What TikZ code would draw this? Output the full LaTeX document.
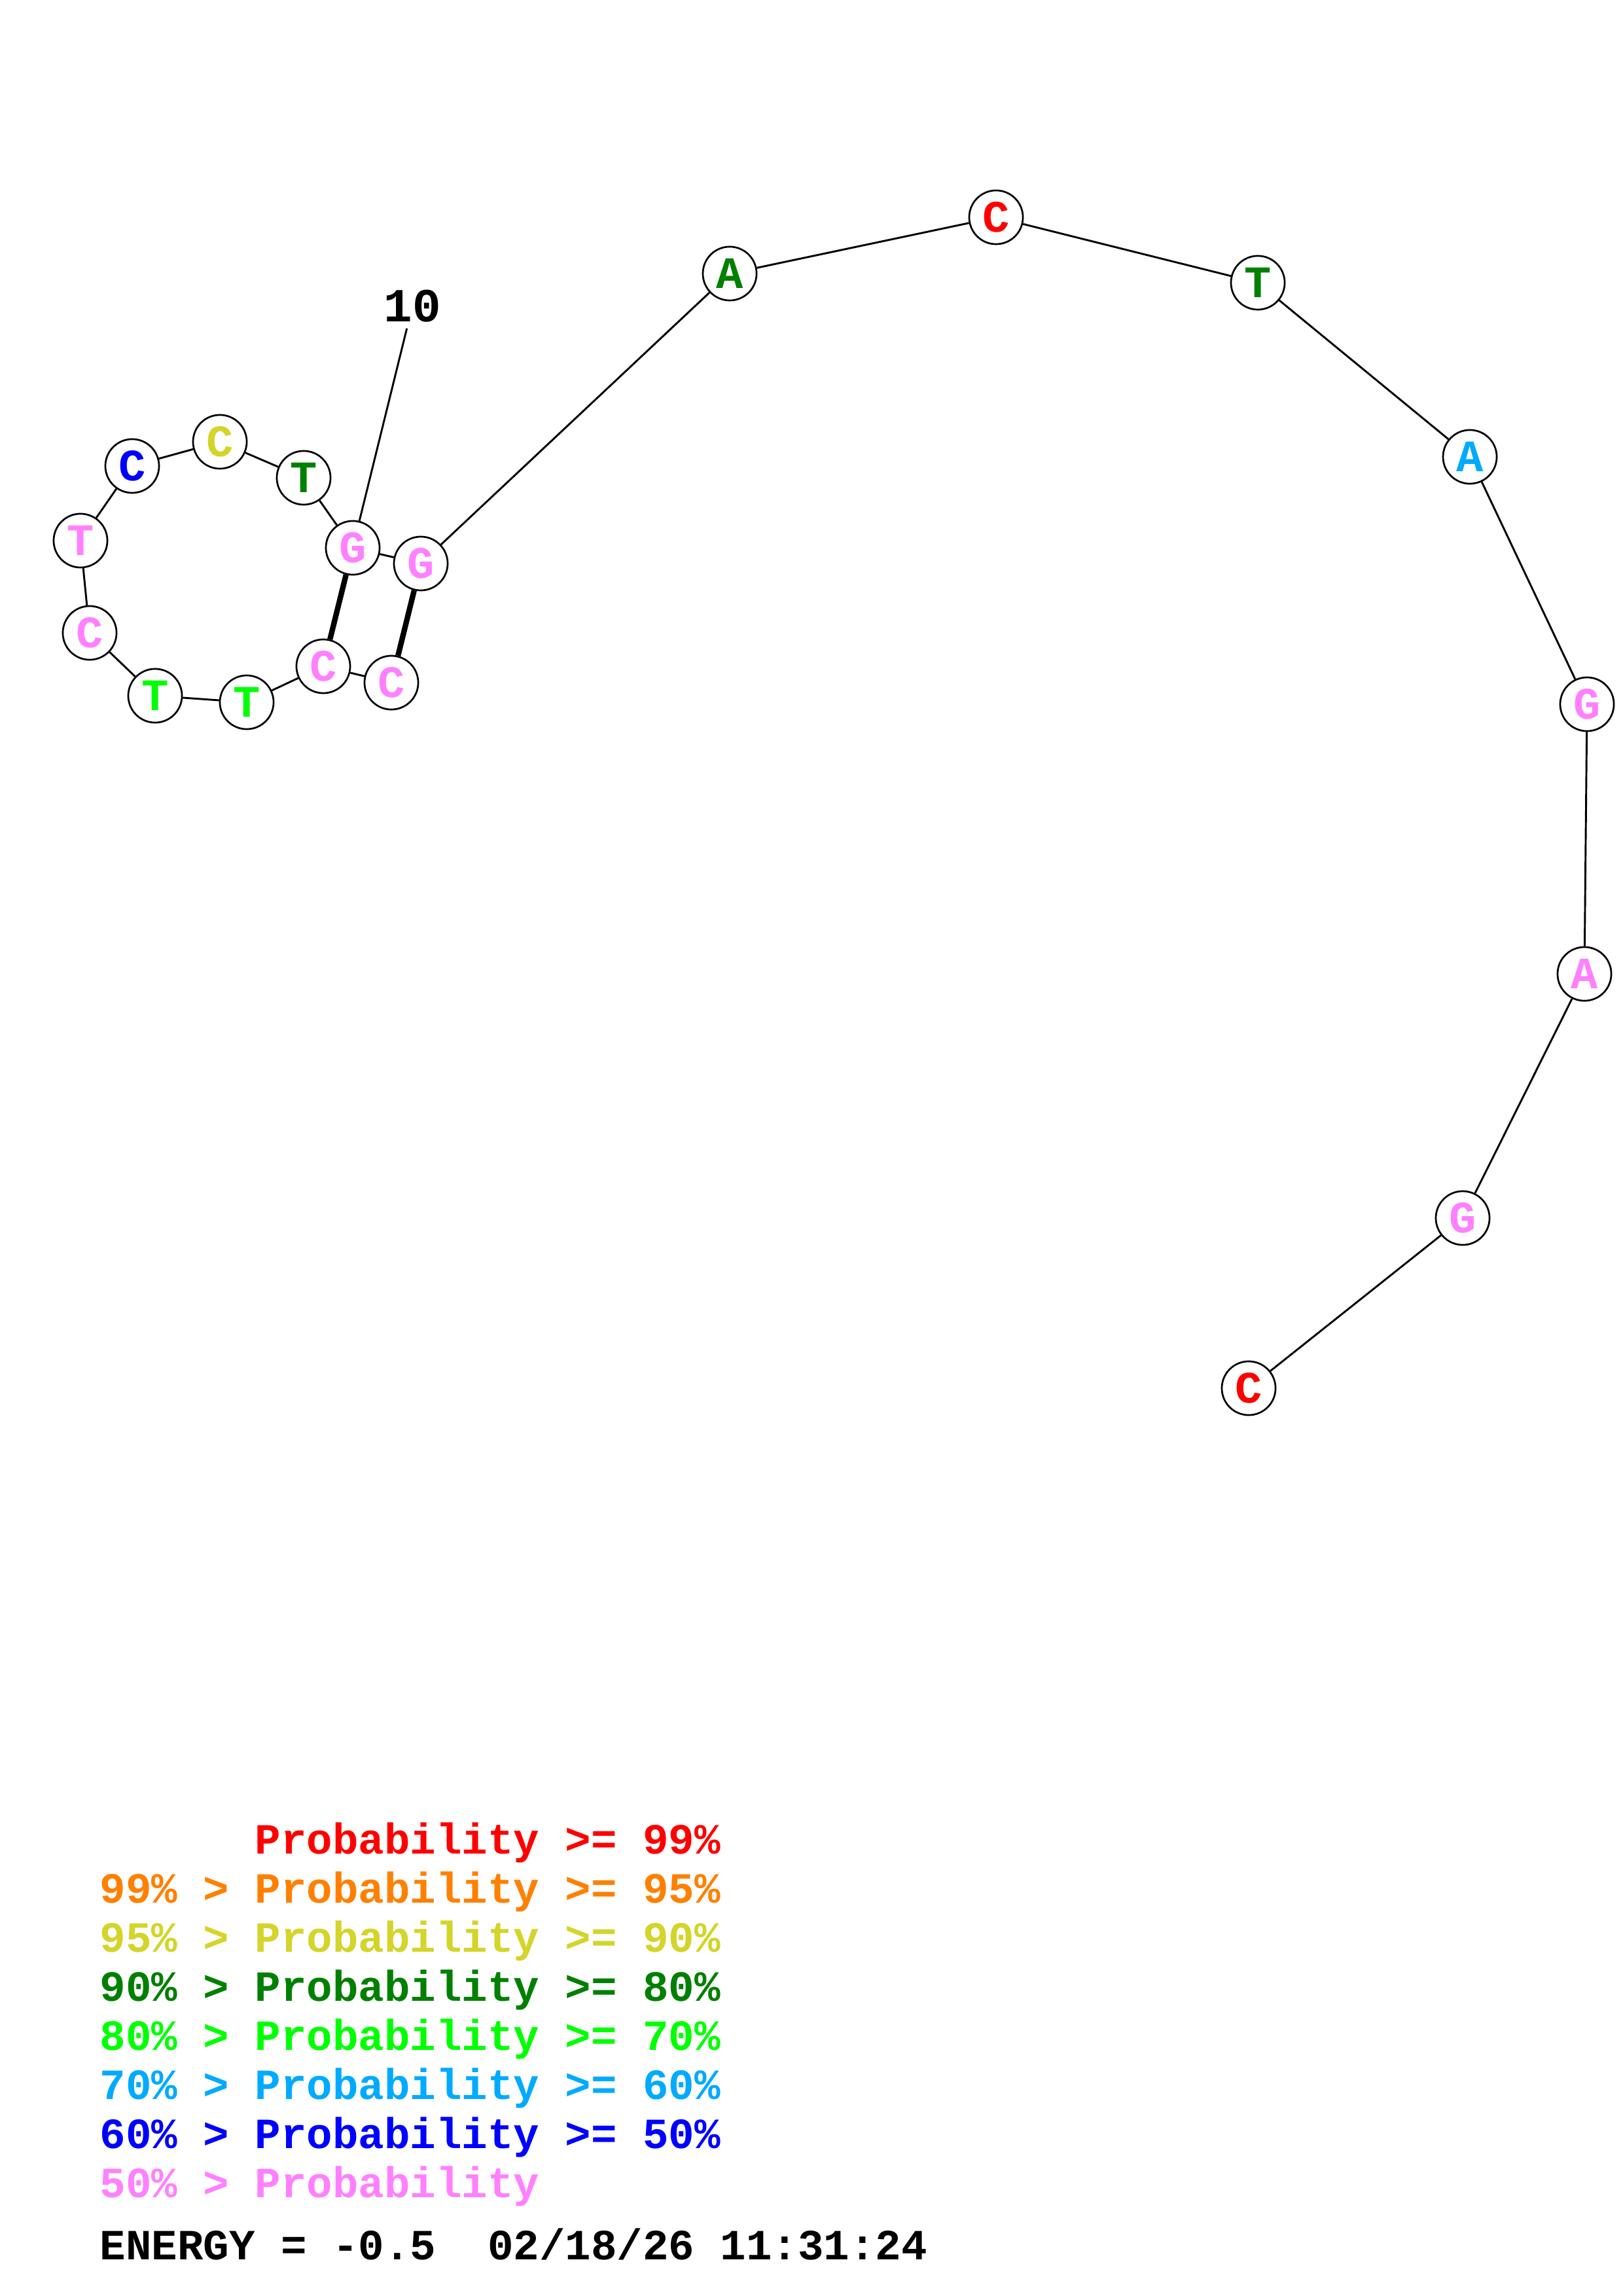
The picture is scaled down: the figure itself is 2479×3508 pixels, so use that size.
\documentclass[tikz,border=0pt]{standalone}
\usepackage{fontspec}
\setmonofont{Liberation Mono}
\definecolor{pr99}{HTML}{FF0000}
\definecolor{pr95}{HTML}{FF8000}
\definecolor{pr90}{HTML}{D4D42A}
\definecolor{pr80}{HTML}{008000}
\definecolor{pr70}{HTML}{00FF00}
\definecolor{pr60}{HTML}{00AAFF}
\definecolor{pr50}{HTML}{0000FF}
\definecolor{prlow}{HTML}{FF80FF}
\begin{document}
\begin{tikzpicture}
[x=0.24pt,y=-0.24pt,
  basedecorate/.style={shape=circle,draw,fill=white,line width=0.65pt,
    minimum size=19.7pt,inner sep=0pt,
    font=\ttfamily\bfseries\fontsize{16.5}{16.5}\selectfont},
  backbonedecorate/.style={line width=0.7pt},
  pairdecorate/.style={line width=2pt},
  legenddecorate/.style={anchor=base west,inner sep=0pt,
    font=\ttfamily\bfseries\fontsize{15.8}{18}\selectfont}]
\useasboundingbox (0,0) rectangle (2479,3508);
% bases
\node (n1) at (598,1043) [basedecorate,text=prlow] {C};
\node (n2) at (494,1018) [basedecorate,text=prlow] {C};
\node (n3) at (377,1073) [basedecorate,text=pr70] {T};
\node (n4) at (237,1063) [basedecorate,text=pr70] {T};
\node (n5) at (137,967) [basedecorate,text=prlow] {C};
\node (n6) at (123,826) [basedecorate,text=prlow] {T};
\node (n7) at (202,712) [basedecorate,text=pr50] {C};
\node (n8) at (336,675) [basedecorate,text=pr90] {C};
\node (n9) at (464,730) [basedecorate,text=pr80] {T};
\node (n10) at (539,837) [basedecorate,text=prlow] {G};
\node (n11) at (643,861) [basedecorate,text=prlow] {G};
\node (n12) at (1115,418) [basedecorate,text=pr80] {A};
\node (n13) at (1522,332) [basedecorate,text=pr99] {C};
\node (n14) at (1922,432) [basedecorate,text=pr80] {T};
\node (n15) at (2246,698) [basedecorate,text=pr60] {A};
\node (n16) at (2425,1076) [basedecorate,text=prlow] {G};
\node (n17) at (2421,1488) [basedecorate,text=prlow] {A};
\node (n18) at (2235,1861) [basedecorate,text=prlow] {G};
\node (n19) at (1908,2121) [basedecorate,text=pr99] {C};
% position label
\node (lab10) at (630,468) [inner sep=2pt,
  font=\ttfamily\bfseries\fontsize{17.4}{17.4}\selectfont] {10};
% backbone
\path
(n1) edge[backbonedecorate] (n2)
(n2) edge[backbonedecorate] (n3)
(n3) edge[backbonedecorate] (n4)
(n4) edge[backbonedecorate] (n5)
(n5) edge[backbonedecorate] (n6)
(n6) edge[backbonedecorate] (n7)
(n7) edge[backbonedecorate] (n8)
(n8) edge[backbonedecorate] (n9)
(n9) edge[backbonedecorate] (n10)
(n10) edge[backbonedecorate] (n11)
(n11) edge[backbonedecorate] (n12)
(n12) edge[backbonedecorate] (n13)
(n13) edge[backbonedecorate] (n14)
(n14) edge[backbonedecorate] (n15)
(n15) edge[backbonedecorate] (n16)
(n16) edge[backbonedecorate] (n17)
(n17) edge[backbonedecorate] (n18)
(n18) edge[backbonedecorate] (n19)
(lab10) edge[backbonedecorate] (n10);
% pairs
\path
(n1) edge[pairdecorate] (n11)
(n2) edge[pairdecorate] (n10);
% legend
\node (leg1) at (152,2832) [legenddecorate,text=pr99] {\phantom{99\% > }Probability >= 99\%};
\node (leg2) at (152,2907) [legenddecorate,text=pr95] {99\% > Probability >= 95\%};
\node (leg3) at (152,2982) [legenddecorate,text=pr90] {95\% > Probability >= 90\%};
\node (leg4) at (152,3057) [legenddecorate,text=pr80] {90\% > Probability >= 80\%};
\node (leg5) at (152,3132) [legenddecorate,text=pr70] {80\% > Probability >= 70\%};
\node (leg6) at (152,3207) [legenddecorate,text=pr60] {70\% > Probability >= 60\%};
\node (leg7) at (152,3282) [legenddecorate,text=pr50] {60\% > Probability >= 50\%};
\node (leg8) at (152,3357) [legenddecorate,text=prlow] {50\% > Probability};
\node (energy) at (152,3452) [legenddecorate] {ENERGY = -0.5\ \ 02/18/26 11:31:24};
\end{tikzpicture}
\end{document}
